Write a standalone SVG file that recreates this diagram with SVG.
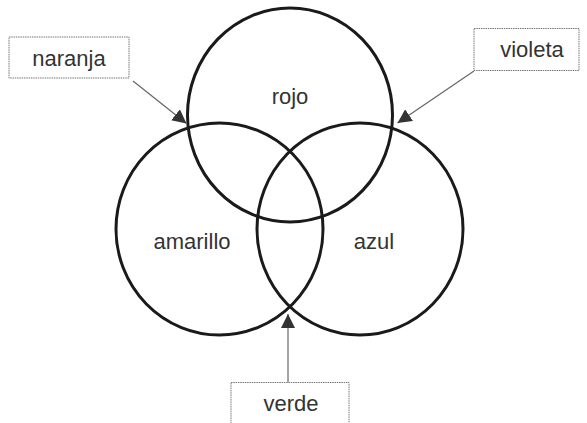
<svg xmlns="http://www.w3.org/2000/svg" width="587" height="423" viewBox="0 0 587 423">
<defs>
<marker id="ah" viewBox="0 0 10 10" refX="10" refY="5" markerWidth="14" markerHeight="14" markerUnits="userSpaceOnUse" orient="auto">
<path d="M0,0 L10,5 L0,10 Z" fill="#333"/>
</marker>
</defs>
<style>
.c{fill:none;stroke:#1a1a1a;stroke-width:3}
.b{fill:#fff;stroke:#777;stroke-width:1;stroke-dasharray:1.5 0.8}
.t{font-family:"Liberation Sans",Arial,sans-serif;font-size:22px;fill:#333;text-anchor:middle}
.a{stroke:#666;stroke-width:1.2;fill:none;marker-end:url(#ah)}
</style>
<rect width="587" height="423" fill="#fff"/>
<g id="rojo"><ellipse class="c" cx="290" cy="115" rx="102.5" ry="107"/><text class="t" x="290" y="104">rojo</text></g>
<g id="amarillo"><ellipse class="c" cx="219.5" cy="229" rx="103.5" ry="106"/><text class="t" x="192" y="249">amarillo</text></g>
<g id="azul"><ellipse class="c" cx="360" cy="229" rx="103" ry="106"/><text class="t" x="374" y="249">azul</text></g>
<g id="naranja"><rect class="b" x="9" y="37" width="120" height="41"/><text class="t" x="69" y="66">naranja</text></g>
<g id="violeta"><rect class="b" x="474" y="28.5" width="105" height="42"/><text class="t" x="532" y="57">violeta</text></g>
<g id="verde"><rect class="b" x="231" y="382.5" width="118" height="44"/><text class="t" x="291" y="411">verde</text></g>
<g id="connectors">
<line class="a" x1="133" y1="81" x2="186.5" y2="123.5"/>
<line class="a" x1="474" y1="71" x2="397.5" y2="123"/>
<line class="a" x1="288" y1="382" x2="288" y2="314"/>
</g>
</svg>
